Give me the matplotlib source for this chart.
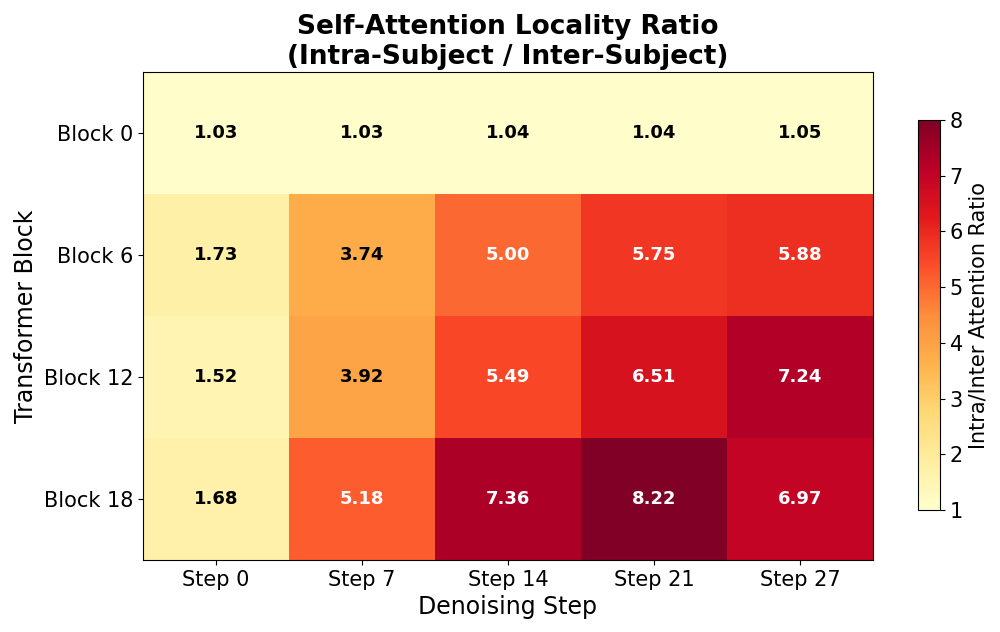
import matplotlib
matplotlib.use("Agg")
import matplotlib.pyplot as plt
import numpy as np

steps = ["Step 0", "Step 7", "Step 14", "Step 21", "Step 27"]
blocks = ["Block 0", "Block 6", "Block 12", "Block 18"]

block0 = [1.03, 1.03, 1.04, 1.04, 1.05]
block6 = [1.73, 3.74, 5.00, 5.75, 5.88]
block12 = [1.52, 3.92, 5.49, 6.51, 7.24]
block18 = [1.68, 5.18, 7.36, 8.22, 6.97]

ratios = np.array([block0, block6, block12, block18])

fig = plt.figure(figsize=(10, 6.32), dpi=100)
ax = fig.add_axes([0.143, 0.114, 0.730, 0.772])
cax = fig.add_axes([0.918, 0.193, 0.022, 0.617])

im = ax.imshow(ratios, cmap="YlOrRd", aspect="auto", vmin=1, vmax=8)

ax.set_xticks(range(len(steps)))
ax.set_xticklabels(steps, fontsize=15)
ax.set_yticks(range(len(blocks)))
ax.set_yticklabels(blocks, fontsize=15)
ax.set_xlabel("Denoising Step", fontsize=17)
ax.set_ylabel("Transformer Block", fontsize=17)
ax.set_title("Self-Attention Locality Ratio\n(Intra-Subject / Inter-Subject)",
             fontsize=19, fontweight="bold")

for i in range(len(blocks)):
    for j in range(len(steps)):
        v = ratios[i, j]
        color = "white" if v > 4.5 else "black"
        ax.text(j, i, f"{v:.2f}", ha="center", va="center",
                fontsize=13, fontweight="bold", color=color)

cbar = fig.colorbar(im, cax=cax)
cbar.set_label("Intra/Inter Attention Ratio", fontsize=15)
cbar.ax.tick_params(labelsize=15)

fig.savefig("out.png", dpi=100)
